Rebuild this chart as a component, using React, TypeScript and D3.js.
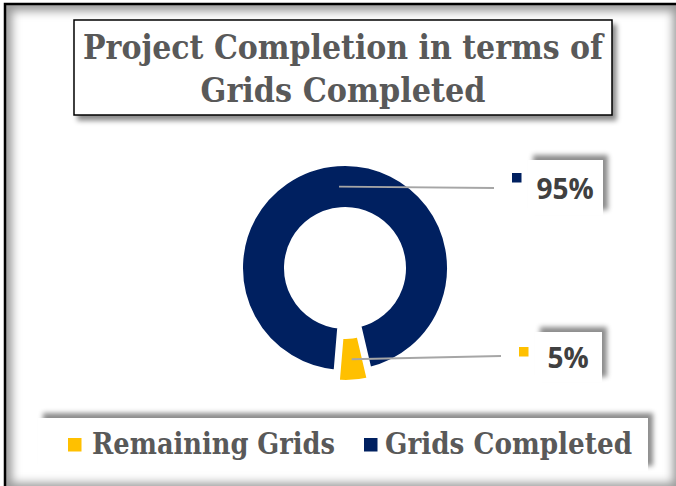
import React from "react";
import * as d3 from "d3";

const categories = ["Remaining Grids", "Grids Completed"];
const values = [5, 95];
const colors = ["#FFC000", "#002060"];
const titleLines = ["Project Completion in terms of", "Grids Completed"];

const W = 676;
const H = 486;

export default function App() {
  const cx = 345;
  const cy = 268;
  const ringW = 5.5;
  const outerR = 102 + ringW / 2;
  const innerR = 61 - ringW / 2;
  const rot = (166.8 * Math.PI) / 180;
  const explode = [10, 0];

  const total = d3.sum(values);
  const pie = d3
    .pie<number>()
    .sort(null)
    .value((d) => d)
    .startAngle(rot)
    .endAngle(rot + 2 * Math.PI);
  const arcs = pie(values);
  const arc = d3.arc<d3.PieArcDatum<number>>().innerRadius(innerR).outerRadius(outerR);

  // label layout (box positions) per category
  const labelLayout = [
    { bx: 535, by: 332, bw: 67, bh: 50, lx: 501, ly: 356, sx: 519, sy: 347, tx: 568, ty: 368 },
    { bx: 528, by: 160, bw: 75, bh: 55, lx: 494, ly: 188, sx: 512, sy: 173, tx: 565, ty: 199 },
  ];

  const legendItems = [
    { sx: 68, tx: 92, tl: 243 },
    { sx: 364, tx: 385, tl: 247 },
  ];

  const serif = "'DejaVu Serif Condensed', 'DejaVu Serif', serif";

  return (
    <svg width={W} height={H} style={{ position: "absolute", left: 0, top: 0 }}>
      <defs>
        <filter id="shTitle" x="-10%" y="-20%" width="130%" height="150%">
          <feDropShadow dx="4" dy="5" stdDeviation="2.5" floodColor="#000" floodOpacity="0.45" />
        </filter>
        <filter id="shLbl" x="-30%" y="-40%" width="160%" height="180%">
          <feDropShadow dx="5" dy="-5" stdDeviation="2.5" floodColor="#000" floodOpacity="0.45" />
        </filter>
        <filter id="blurFrame" x="-5%" y="-5%" width="110%" height="110%">
          <feGaussianBlur stdDeviation="5" />
        </filter>
        <clipPath id="frameClip">
          <rect x={5} y={4} width={W - 5} height={H - 4} />
        </clipPath>
      </defs>
      <rect x={0} y={0} width={W} height={H} fill="#fff" />
      {/* frame */}
      <g clipPath="url(#frameClip)">
        <rect
          x={5}
          y={4}
          width={W - 1}
          height={H}
          fill="none"
          stroke="#000"
          strokeOpacity={0.4}
          strokeWidth={14}
          filter="url(#blurFrame)"
        />
      </g>
      <rect x={5} y={4} width={W + 20} height={H + 20} fill="none" stroke="#000" strokeWidth={2.5} />

      {/* title */}
      <rect x={74} y={20} width={538} height={95} fill="#fff" stroke="#000" strokeWidth={1.5} filter="url(#shTitle)" />
      {titleLines.map((t, i) => (
        <text
          key={i}
          x={343}
          y={59 + i * 43}
          textAnchor="middle"
          fontFamily={serif}
          fontWeight="bold"
          fontSize={34}
          fill="#595959"
          textLength={i === 0 ? 520 : 285}
          lengthAdjust="spacingAndGlyphs"
        >
          {t}
        </text>
      ))}

      {/* donut */}
      <g transform={`translate(${cx},${cy})`}>
        {arcs.map((a, i) => {
          const mid = (a.startAngle + a.endAngle) / 2;
          const dx = explode[i] * Math.sin(mid);
          const dy = -explode[i] * Math.cos(mid);
          return (
            <path
              key={i}
              d={arc(a) || ""}
              transform={`translate(${dx},${dy})`}
              fill={colors[i]}
              stroke="#fff"
              strokeWidth={ringW}
            />
          );
        })}
      </g>

      {/* leader lines */}
      {arcs.map((a, i) => {
        const mid = (a.startAngle + a.endAngle) / 2;
        const [c0, c1] = arc.centroid(a);
        const ex = explode[i] * Math.sin(mid);
        const ey = -explode[i] * Math.cos(mid);
        const L = labelLayout[i];
        return (
          <line
            key={i}
            x1={cx + c0 + ex}
            y1={cy + c1 + ey}
            x2={L.lx}
            y2={L.ly}
            stroke="#A6A6A6"
            strokeWidth={1.8}
          />
        );
      })}

      {/* data labels */}
      {arcs.map((a, i) => {
        const L = labelLayout[i];
        const pct = Math.round((values[i] / total) * 100);
        return (
          <g key={i}>
            <rect x={L.bx} y={L.by} width={L.bw} height={L.bh} fill="#fff" filter="url(#shLbl)" />
            <rect x={L.sx} y={L.sy} width={9.5} height={9.5} fill={colors[i]} />
            <text
              x={L.tx}
              y={L.ty}
              textAnchor="middle"
              fontFamily="'Open Sans', sans-serif"
              fontWeight="bold"
              fontSize={28}
              fill="#404040"
            >
              {`${pct}%`}
            </text>
          </g>
        );
      })}

      {/* legend */}
      <rect x={38} y={418} width={610} height={53} fill="#fff" filter="url(#shLbl)" />
      {categories.map((c, i) => {
        const L = legendItems[i];
        return (
          <g key={i}>
            <rect x={L.sx} y={438} width={13.5} height={13.5} fill={colors[i]} />
            <text
              x={L.tx}
              y={454}
              fontFamily={serif}
              fontWeight="bold"
              fontSize={29}
              fill="#595959"
              textLength={L.tl}
              lengthAdjust="spacingAndGlyphs"
            >
              {c}
            </text>
          </g>
        );
      })}
    </svg>
  );
}
